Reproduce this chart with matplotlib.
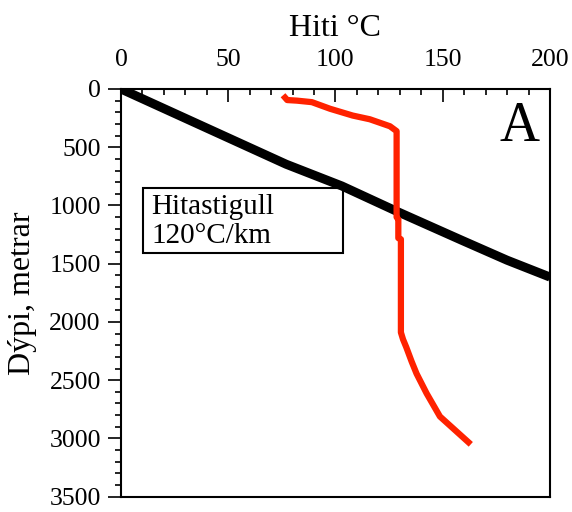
import matplotlib.pyplot as plt
from matplotlib.patches import Rectangle
from matplotlib.ticker import MultipleLocator

plt.rcParams['font.family'] = ['Liberation Serif', 'DejaVu Serif']

# Hitastigull line (gradient reference), temperature in C vs depth in m
grad_temp = [0, 77, 103, 129, 159, 180, 200]
grad_depth = [0, 646, 833, 1054, 1300, 1470, 1615]

# Measured temperature profile
well_temp = [76.5, 77.5, 82, 89, 97.5, 108, 116, 125.4, 128.5, 128.5, 129.3, 129.3,
             130.5, 130.5, 131.5, 133, 135.5, 137.8, 142.5, 148.7, 162]
well_depth = [74, 95, 100, 113, 170, 228, 260, 320, 362, 1100, 1120, 1280,
              1290, 2090, 2150, 2217, 2340, 2444, 2614, 2812, 3033]

fig = plt.figure(figsize=(5.72, 5.12), dpi=100)
ax = fig.add_axes([0.2115, 0.03, 0.75, 0.7962])

# Box with the gradient label
box = Rectangle((10.4, 852), 93.2, 558, facecolor='white', edgecolor='black',
                linewidth=1.5, zorder=2)
ax.add_patch(box)
ax.text(14, 1070, 'Hitastigull', fontsize=21, va='baseline', zorder=3)
ax.text(14, 1325, '120°C/km', fontsize=21, va='baseline', zorder=3)

ax.plot(grad_temp, grad_depth, color='black', linewidth=6.5,
        solid_capstyle='butt', zorder=4)
ax.plot(well_temp, well_depth, color='#ff2200', linewidth=4.5, zorder=4)

ax.text(186, 450, 'A', fontsize=40, ha='center', va='baseline')

ax.set_xlim(0, 200)
ax.set_ylim(3500, 0)

ax.xaxis.tick_top()
ax.xaxis.set_label_position('top')
ax.xaxis.set_major_locator(MultipleLocator(50))
ax.xaxis.set_minor_locator(MultipleLocator(10))
ax.yaxis.set_major_locator(MultipleLocator(500))
ax.yaxis.set_minor_locator(MultipleLocator(100))

ax.tick_params(axis='x', which='both', direction='in', labelsize=18.5, pad=13)
ax.tick_params(axis='y', which='both', direction='out', labelsize=18.5, pad=5)
ax.tick_params(which='major', length=9.5, width=1.2)
ax.tick_params(which='minor', length=4, width=1.2)

for spine in ax.spines.values():
    spine.set_linewidth(1.5)

ax.set_xlabel('Hiti °C', fontsize=23, labelpad=9)
ax.set_ylabel('Dýpi, metrar', fontsize=23, labelpad=9)

fig.savefig('out.png', dpi=100)
